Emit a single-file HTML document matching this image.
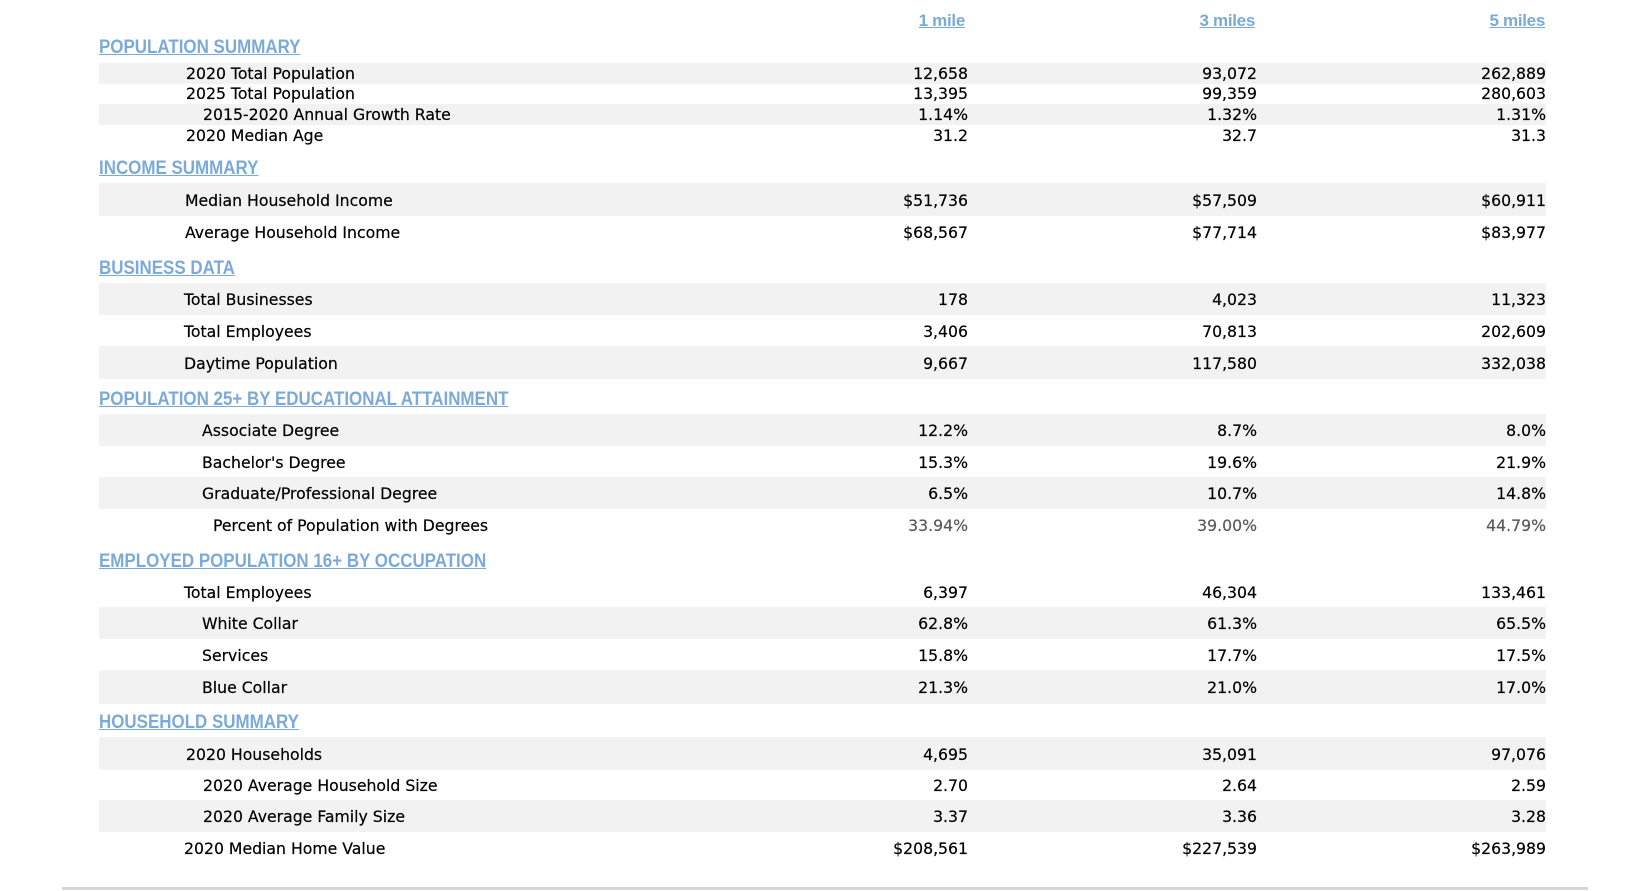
<!DOCTYPE html>
<html>
<head>
<meta charset="utf-8">
<style>
  html,body{margin:0;padding:0;background:#fff;}
  body{width:1650px;height:891px;position:relative;overflow:hidden;
       font-family:"DejaVu Sans","Liberation Sans",sans-serif;color:#000;}
  .ch{position:absolute;top:11px;height:20px;line-height:20px;font-family:"Liberation Sans",sans-serif;
      font-weight:bold;font-size:17px;color:#7baad9;text-decoration:underline;letter-spacing:-0.3px;white-space:nowrap;}
  .sh{position:absolute;left:99px;height:20px;line-height:20px;font-family:"Liberation Sans",sans-serif;
      font-weight:bold;font-size:19px;color:#7baad9;text-decoration:underline;white-space:nowrap;
      transform:scaleX(0.892);transform-origin:0 50%;}
  .r{position:absolute;left:99px;width:1447px;font-size:15.7px;white-space:nowrap;}
  .g{background:#f2f2f2;}
  .r span{position:absolute;top:1px;-webkit-text-stroke:0.2px #000;}
  .p span{top:-0.5px;}
  .v1{right:578px;text-align:right;}
  .v2{right:289px;text-align:right;}
  .v3{right:0px;text-align:right;}
  .gr span.v1,.gr span.v2,.gr span.v3{color:#595959;-webkit-text-stroke:0.2px #595959;}
  .line{position:absolute;left:62px;top:887px;width:1526px;height:3px;background:#d6d6d6;}
</style>
</head>
<body>

<div class="ch" style="right:685px;">1 mile</div>
<div class="ch" style="right:395px;">3 miles</div>
<div class="ch" style="right:105px;">5 miles</div>

<div class="sh" style="top:38px;">POPULATION SUMMARY</div>
<div class="r g p" style="top:63px;height:21px;line-height:21px;"><span style="left:87px">2020 Total Population</span><span class="v1">12,658</span><span class="v2">93,072</span><span class="v3">262,889</span></div>
<div class="r p" style="top:84px;height:20px;line-height:20px;"><span style="left:87px">2025 Total Population</span><span class="v1">13,395</span><span class="v2">99,359</span><span class="v3">280,603</span></div>
<div class="r g p" style="top:104px;height:21px;line-height:21px;"><span style="left:104px">2015-2020 Annual Growth Rate</span><span class="v1">1.14%</span><span class="v2">1.32%</span><span class="v3">1.31%</span></div>
<div class="r p" style="top:125px;height:21px;line-height:21px;"><span style="left:87px">2020 Median Age</span><span class="v1">31.2</span><span class="v2">32.7</span><span class="v3">31.3</span></div>

<div class="sh" style="top:159px;">INCOME SUMMARY</div>
<div class="r g" style="top:183px;height:33px;line-height:33px;"><span style="left:86px">Median Household Income</span><span class="v1">$51,736</span><span class="v2">$57,509</span><span class="v3">$60,911</span></div>
<div class="r" style="top:216px;height:32px;line-height:32px;"><span style="left:86px">Average Household Income</span><span class="v1">$68,567</span><span class="v2">$77,714</span><span class="v3">$83,977</span></div>

<div class="sh" style="top:259px;">BUSINESS DATA</div>
<div class="r g" style="top:283px;height:32px;line-height:32px;"><span style="left:85px">Total Businesses</span><span class="v1">178</span><span class="v2">4,023</span><span class="v3">11,323</span></div>
<div class="r" style="top:315px;height:31px;line-height:31px;"><span style="left:85px">Total Employees</span><span class="v1">3,406</span><span class="v2">70,813</span><span class="v3">202,609</span></div>
<div class="r g" style="top:346px;height:33px;line-height:33px;"><span style="left:85px">Daytime Population</span><span class="v1">9,667</span><span class="v2">117,580</span><span class="v3">332,038</span></div>

<div class="sh" style="top:390px;">POPULATION 25+ BY EDUCATIONAL ATTAINMENT</div>
<div class="r g" style="top:414px;height:32px;line-height:32px;"><span style="left:103px">Associate Degree</span><span class="v1">12.2%</span><span class="v2">8.7%</span><span class="v3">8.0%</span></div>
<div class="r" style="top:446px;height:31px;line-height:31px;"><span style="left:103px">Bachelor's Degree</span><span class="v1">15.3%</span><span class="v2">19.6%</span><span class="v3">21.9%</span></div>
<div class="r g" style="top:477px;height:32px;line-height:32px;"><span style="left:103px">Graduate/Professional Degree</span><span class="v1">6.5%</span><span class="v2">10.7%</span><span class="v3">14.8%</span></div>
<div class="r gr" style="top:509px;height:31px;line-height:31px;"><span style="left:114px">Percent of Population with Degrees</span><span class="v1">33.94%</span><span class="v2">39.00%</span><span class="v3">44.79%</span></div>

<div class="sh" style="top:552px;">EMPLOYED POPULATION 16+ BY OCCUPATION</div>
<div class="r" style="top:576px;height:31px;line-height:31px;"><span style="left:85px">Total Employees</span><span class="v1">6,397</span><span class="v2">46,304</span><span class="v3">133,461</span></div>
<div class="r g" style="top:607px;height:32px;line-height:32px;"><span style="left:103px">White Collar</span><span class="v1">62.8%</span><span class="v2">61.3%</span><span class="v3">65.5%</span></div>
<div class="r" style="top:639px;height:31px;line-height:31px;"><span style="left:103px">Services</span><span class="v1">15.8%</span><span class="v2">17.7%</span><span class="v3">17.5%</span></div>
<div class="r g" style="top:670px;height:34px;line-height:34px;"><span style="left:103px">Blue Collar</span><span class="v1">21.3%</span><span class="v2">21.0%</span><span class="v3">17.0%</span></div>

<div class="sh" style="top:713px;">HOUSEHOLD SUMMARY</div>
<div class="r g" style="top:737px;height:33px;line-height:33px;"><span style="left:87px">2020 Households</span><span class="v1">4,695</span><span class="v2">35,091</span><span class="v3">97,076</span></div>
<div class="r" style="top:770px;height:30px;line-height:30px;"><span style="left:104px">2020 Average Household Size</span><span class="v1">2.70</span><span class="v2">2.64</span><span class="v3">2.59</span></div>
<div class="r g" style="top:800px;height:32px;line-height:32px;"><span style="left:104px">2020 Average Family Size</span><span class="v1">3.37</span><span class="v2">3.36</span><span class="v3">3.28</span></div>
<div class="r" style="top:832px;height:32px;line-height:32px;"><span style="left:85px">2020 Median Home Value</span><span class="v1">$208,561</span><span class="v2">$227,539</span><span class="v3">$263,989</span></div>

<div class="line"></div>

</body>
</html>
